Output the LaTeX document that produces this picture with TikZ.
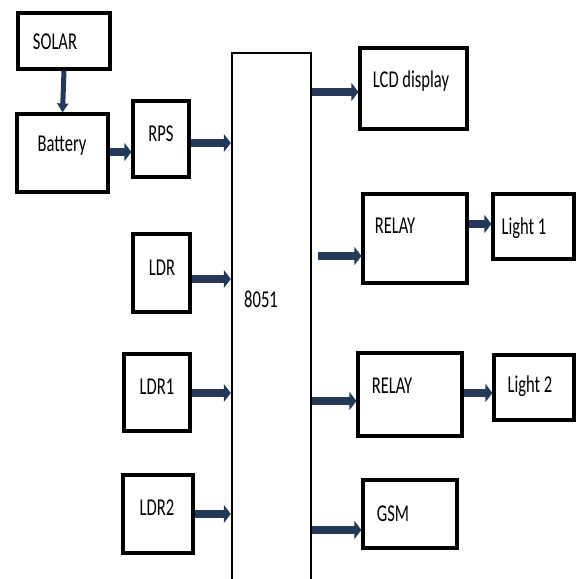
\documentclass[tikz,border=0pt]{standalone}
\usepackage{fontspec}
\usepackage{graphicx}
\setmainfont{Carlito}
\usetikzlibrary{arrows.meta}
\definecolor{arrowblue}{RGB}{36,56,90}
\newcommand\sqz[1]{\scalebox{0.72}[1.05]{#1}}
\begin{document}
\begin{tikzpicture}[x=1pt,y=-1pt,
  blk/.style={draw=black, line width=3.2pt, inner sep=0pt},
  txt/.style={font=\fontsize{23}{23}\selectfont, inner sep=0pt, text=black},
  arr/.style={draw=arrowblue, line width=8.5pt, -{Triangle[width=18pt,length=7pt]}},
  varr/.style={draw=arrowblue, line width=5pt, -{Triangle[width=11pt,length=9pt]}}]
\clip (0,0) rectangle (576,579);
\fill[white] (0,0) rectangle (576,579);
% boxes
\node[blk, minimum width=92pt, minimum height=56pt] (solar) at (64,41) {};
\node[blk, minimum width=91pt, minimum height=78pt] (bat) at (62.5,153) {};
\node[blk, minimum width=56pt, minimum height=76pt] (rps) at (161,139) {};
\node[draw=black, line width=2.5pt, inner sep=0pt, minimum width=79pt, minimum height=560pt] (mcu) at (271.5,333) {};
\node[blk, minimum width=57pt, minimum height=78pt] (ldr) at (161.5,273) {};
\node[blk, minimum width=66pt, minimum height=77pt] (ldra) at (157,392.5) {};
\node[blk, minimum width=70pt, minimum height=78pt] (ldrb) at (158,514) {};
\node[blk, minimum width=107pt, minimum height=81pt] (lcd) at (413.5,88.5) {};
\node[blk, minimum width=104pt, minimum height=89pt] (relaya) at (415,238.5) {};
\node[blk, minimum width=81pt, minimum height=65pt] (lighta) at (533.5,226.5) {};
\node[blk, minimum width=104pt, minimum height=83pt] (relayb) at (410,394.5) {};
\node[blk, minimum width=80pt, minimum height=65pt] (lightb) at (534,387.5) {};
\node[blk, minimum width=94pt, minimum height=68pt] (gsm) at (410,514) {};
% texts
\node[txt] (solar-t) at (55,42) {\sqz{SOLAR}};
\node[txt] (bat-t) at (62,146) {\sqz{Battery}};
\node[txt] (rps-t) at (161,134) {\sqz{RPS}};
\node[txt] (mcu-t) at (261,299) {\sqz{8051}};
\node[txt] (ldr-t) at (162,268) {\sqz{LDR}};
\node[txt] (ldra-t) at (157,387) {\sqz{LDR1}};
\node[txt] (ldrb-t) at (157,508) {\sqz{LDR2}};
\node[txt] (lcd-t) at (411,81) {\sqz{LCD display}};
\node[txt] (relaya-t) at (395,226) {\sqz{RELAY}};
\node[txt] (lighta-t) at (524,228) {\sqz{Light 1}};
\node[txt] (relayb-t) at (392,386) {\sqz{RELAY}};
\node[txt] (lightb-t) at (530,386) {\sqz{Light 2}};
\node[txt] (gsm-t) at (393,514) {\sqz{GSM}};
% arrows
\draw[varr] (solar.south) -- (bat.north);
\draw[arr] (bat.east |- 0,152) -- (rps.west |- 0,152);
\draw[arr] (rps.east |- 0,143) -- (mcu.west |- 0,143);
\draw[arr] (ldr.east |- 0,279) -- (mcu.west |- 0,279);
\draw[arr] (ldra.east |- 0,393) -- (mcu.west |- 0,393);
\draw[arr] (ldrb.east |- 0,514) -- (mcu.west |- 0,514);
\draw[arr] (mcu.east |- 0,92) -- (lcd.west |- 0,92);
\draw[arr] ([xshift=6pt]mcu.east |- 0,256) -- (relaya.west |- 0,256);
\draw[arr] (relaya.east |- 0,224) -- (lighta.west |- 0,224);
\draw[arr] (mcu.east |- 0,401) -- (relayb.west |- 0,401);
\draw[arr] (relayb.east |- 0,393) -- (lightb.west |- 0,393);
\draw[arr] (mcu.east |- 0,530) -- (gsm.west |- 0,530);
\end{tikzpicture}
\end{document}
